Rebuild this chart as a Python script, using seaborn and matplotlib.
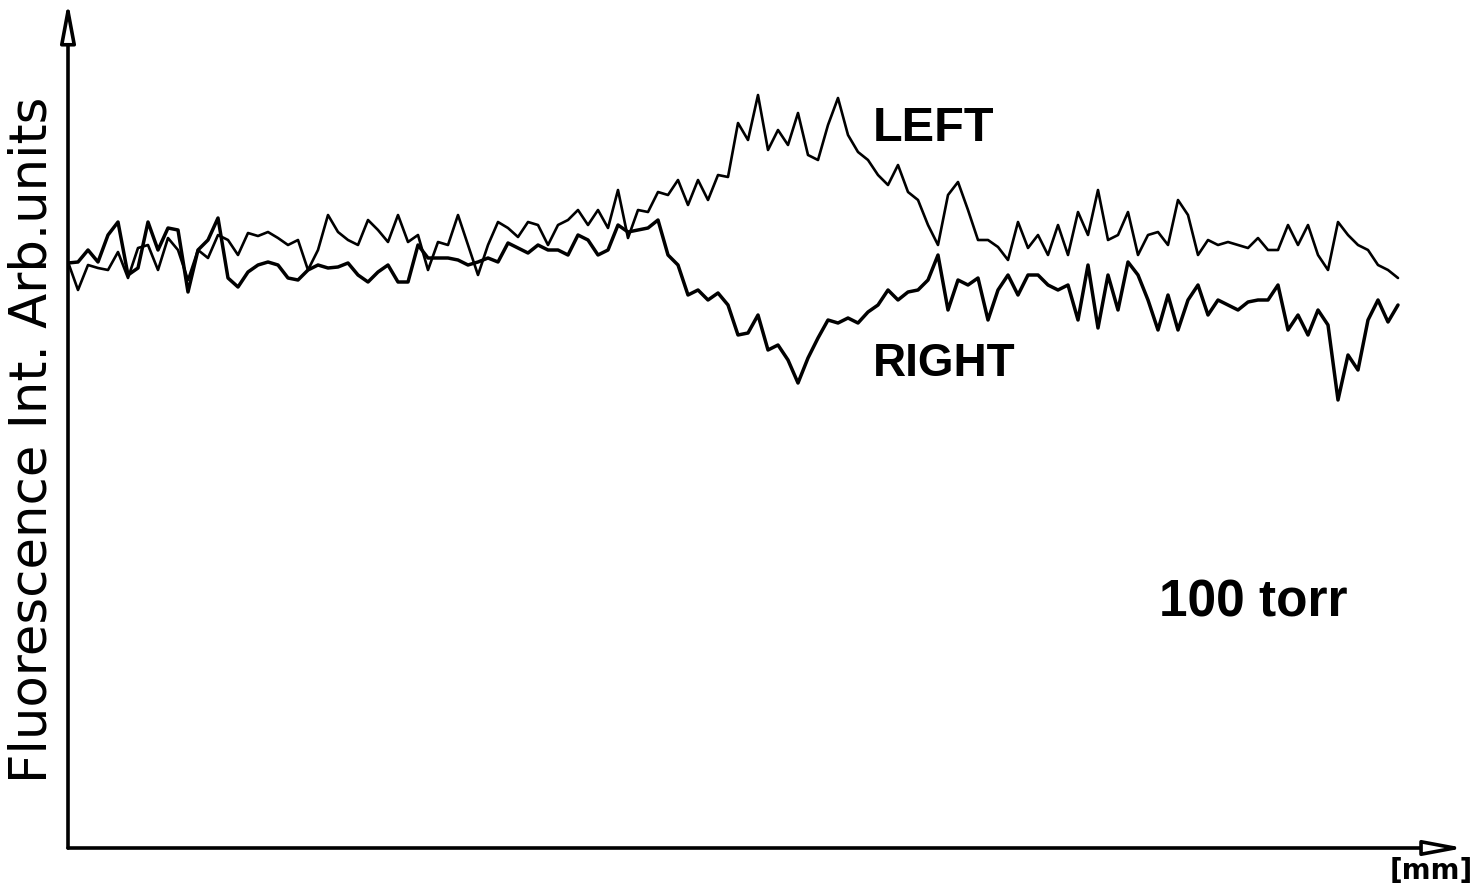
import numpy as np
import pandas as pd
import seaborn as sns
import matplotlib.pyplot as plt

# fluorescence traces (arb. units), one sample every 0.1 mm
left_trace = [
    586, 558, 583, 580, 578, 596, 570, 600, 603, 578, 610, 598, 568, 598, 590, 613, 608, 593, 615, 612, 616, 610, 603,
    608, 578, 598, 633, 616, 608, 603, 628, 618, 606, 633, 606, 613, 578, 606, 603, 633, 603, 573, 603, 626,
    620, 611, 626, 623, 603, 623, 628, 638, 623, 638, 620, 658, 610, 638, 636, 656, 653, 668, 643, 668,
    648, 673, 671, 725, 708, 753, 698, 718, 703, 735, 693, 688, 723, 750, 713, 696, 688, 673, 663, 683, 656, 648, 623, 603,
    653, 666, 638, 608, 608, 601, 588, 626, 600, 613, 593, 623, 593, 636, 613, 658, 608, 613, 636, 593, 613, 616,
    603, 648, 633, 593, 608, 603, 606, 603, 600, 610, 598, 598, 623, 603, 623, 593, 578, 626, 613, 603, 598, 583, 578, 570,
]
right_trace = [
    585, 586, 598, 586, 613, 626, 573, 580, 626, 598, 620, 618, 556, 598, 608, 630, 570, 561, 576, 583, 586, 583, 570,
    568, 578, 583, 580, 581, 585, 573, 566, 576, 583, 566, 566, 603, 590, 590, 590, 588, 583, 586, 590, 586,
    605, 600, 595, 603, 598, 598, 593, 613, 608, 593, 598, 623, 616, 618, 620, 628, 593, 583, 553, 558,
    548, 555, 543, 513, 515, 533, 498, 503, 488, 465, 490, 510, 528, 525, 530, 525, 536, 543, 558, 548, 556, 558, 568, 593,
    538, 568, 563, 570, 528, 558, 573, 553, 573, 573, 563, 558, 563, 528, 583, 520, 573, 538, 586, 573, 548, 518,
    553, 518, 548, 563, 533, 548, 543, 538, 546, 548, 548, 563, 518, 533, 513, 538, 523, 448, 493, 478, 528, 548, 526, 543,
]
position_mm = np.arange(len(left_trace)) * 0.1

df = pd.DataFrame({
    "pos": np.concatenate([position_mm, position_mm]),
    "intensity": left_trace + right_trace,
    "side": ["LEFT"] * len(left_trace) + ["RIGHT"] * len(right_trace),
})

sns.set_style("white")
plt.rcParams["font.family"] = ["DejaVu Sans"]
plt.rcParams["text.color"] = "black"

fig = plt.figure(figsize=(14.78, 8.94), dpi=100)
ax = fig.add_axes([68 / 1478, 46 / 894, 1392 / 1478, 838 / 894])

sns.lineplot(data=df[df.side == "LEFT"], x="pos", y="intensity", color="black",
             linewidth=1.9, ax=ax, legend=False)
sns.lineplot(data=df[df.side == "RIGHT"], x="pos", y="intensity", color="black",
             linewidth=2.5, ax=ax, legend=False)

ax.set_xlim(0, 13.92)
ax.set_ylim(0, 838)
for s in ax.spines.values():
    s.set_visible(False)
ax.set_xticks([])
ax.set_yticks([])
ax.set_xlabel("")
ax.set_ylabel("")

# axis arrows with open heads
arrow = dict(arrowstyle="-|>,head_length=2.4,head_width=0.45", fc="white", ec="black", lw=2.6,
             shrinkA=0, shrinkB=0)
ax.annotate("", xy=(0, 1.01), xytext=(0, 0), xycoords="axes fraction", arrowprops=arrow, annotation_clip=False)
ax.annotate("", xy=(1.003, 0), xytext=(0, 0), xycoords="axes fraction", arrowprops=arrow, annotation_clip=False)

lab = dict(family="Liberation Sans", fontweight="bold", color="black", va="center", ha="left")
ax.text(0.578, 0.858, "LEFT", transform=ax.transAxes, fontsize=35, **lab)
ax.text(0.578, 0.578, "RIGHT", transform=ax.transAxes, fontsize=33, **lab)
ax.text(0.784, 0.292, "100 torr", transform=ax.transAxes, fontsize=37, **lab)

fig.text(33 / 1478, 0.508, "Fluorescence Int. Arb.units", rotation=90, fontsize=37,
         va="center", ha="center", color="black")
fig.text(1431 / 1478, 0.026, "[mm]", fontsize=20, fontweight="bold", va="center", ha="center", color="black")

fig.savefig("out.png", dpi=100)
